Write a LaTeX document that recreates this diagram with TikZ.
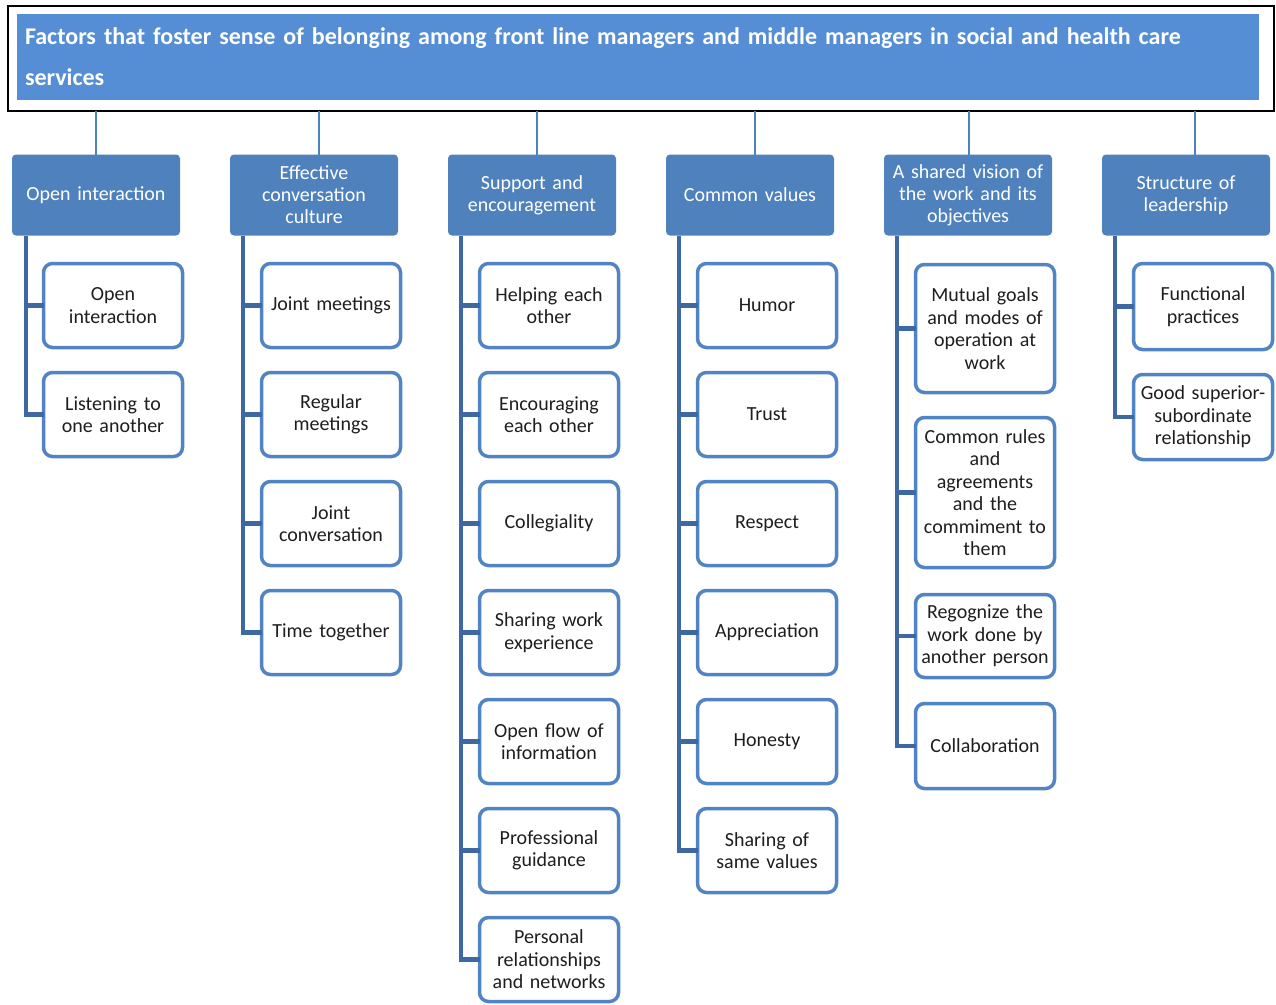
\documentclass[tikz,border=0pt]{standalone}
\usepackage{fontspec}
\setmainfont{Carlito}
\usetikzlibrary{positioning}
\definecolor{titleblue}{RGB}{85,142,213}
\definecolor{headblue}{RGB}{79,129,189}
\definecolor{boxblue}{RGB}{82,132,196}
\definecolor{spineblue}{RGB}{62,104,162}
\definecolor{txtgray}{RGB}{30,30,30}

\begin{document}
\begin{tikzpicture}[x=1pt, y=-1pt,
        outerframe/.style={draw=black, line width=1.5pt, minimum width=1266pt, minimum height=105pt, inner sep=0pt, outer sep=0pt},
        maintitle/.style={fill=titleblue, minimum width=1242pt, minimum height=86pt, text width=1226pt, align=left, inner sep=8pt, text=white, font=\bfseries\fontsize{24}{41}\selectfont},
        head/.style={fill=headblue, rounded corners=4pt, minimum width=168pt, minimum height=81pt, text width=160pt, align=center, inner sep=4pt, outer sep=0pt, text=white, font=\fontsize{20}{22}\selectfont},
        item/.style={draw=boxblue, line width=3.5pt, rounded corners=9pt, fill=white, minimum width=139pt, minimum height=84pt, text width=135pt, align=center, inner sep=2pt, outer sep=0pt, text=txtgray, font=\fontsize{20}{22.5}\selectfont},
        link/.style={draw=headblue, line width=1.3pt},
        bracket/.style={draw=spineblue, line width=4.5pt}]

        \useasboundingbox (0,0) rectangle (1276,1004);

        \node[outerframe] (frame) at (641,58.5) {};
        \node[maintitle] (title) at (638,57) {Factors that foster sense of belonging among front line managers and middle managers in social and health care\\services};

        \node[head] (open) at (96,195) {Open interaction};
        \node[head] (conv) at (314,195) {Effective\\conversation\\culture};
        \node[head] (support) at (532,195) {Support and\\encouragement};
        \node[head] (values) at (750,195) {Common values};
        \node[head] (vision) at (968,195) {A shared vision of\\the work and its\\objectives};
        \node[head] (leader) at (1186,195) {Structure of\\leadership};

        \draw[link] (open.north) -- (open.north |- frame.south);
        \draw[link] ([xshift=5pt]conv.north) -- ([xshift=5pt]conv.north |- frame.south);
        \draw[link] ([xshift=5pt]support.north) -- ([xshift=5pt]support.north |- frame.south);
        \draw[link] ([xshift=5pt]values.north) -- ([xshift=5pt]values.north |- frame.south);
        \draw[link] ([xshift=1pt]vision.north) -- ([xshift=1pt]vision.north |- frame.south);
        \draw[link] ([xshift=9pt]leader.north) -- ([xshift=9pt]leader.north |- frame.south);

        \node[item, below=28pt of open, xshift=17pt] (open1) {Open\\interaction};
        \node[item, below=25pt of open1] (open2) {Listening to\\one another};

        \node[item, below=28pt of conv, xshift=17pt] (conv1) {Joint meetings};
        \node[item, below=25pt of conv1] (conv2) {Regular\\meetings};
        \node[item, below=25pt of conv2] (conv3) {Joint\\conversation};
        \node[item, below=25pt of conv3] (conv4) {Time together};

        \node[item, below=28pt of support, xshift=17pt] (sup1) {Helping each\\other};
        \node[item, below=25pt of sup1] (sup2) {Encouraging\\each other};
        \node[item, below=25pt of sup2] (sup3) {Collegiality};
        \node[item, below=25pt of sup3] (sup4) {Sharing work\\experience};
        \node[item, below=25pt of sup4] (sup5) {Open flow of\\information};
        \node[item, below=25pt of sup5] (sup6) {Professional\\guidance};
        \node[item, below=25pt of sup6] (sup7) {Personal\\relationships\\and networks};

        \node[item, below=28pt of values, xshift=17pt] (val1) {Humor};
        \node[item, below=25pt of val1] (val2) {Trust};
        \node[item, below=25pt of val2] (val3) {Respect};
        \node[item, below=25pt of val3] (val4) {Appreciation};
        \node[item, below=25pt of val4] (val5) {Honesty};
        \node[item, below=25pt of val5] (val6) {Sharing of\\same values};

        \node[item, below=29pt of vision, xshift=17pt, minimum height=128pt] (vis1) {Mutual goals\\and modes of\\operation at\\work};
        \node[item, below=25pt of vis1, minimum height=150pt] (vis2) {Common rules\\and\\agreements\\and the\\commiment to\\them};
        \node[item, below=27pt of vis2, minimum height=83pt] (vis3) {Regognize the\\work done by\\another person};
        \node[item, below=26pt of vis3, minimum height=85pt] (vis4) {Collaboration};

        \node[item, below=28pt of leader, xshift=17pt, minimum height=86pt] (lead1) {Functional\\practices};
        \node[item, below=25pt of lead1, minimum height=85pt] (lead2) {Good superior-\\subordinate\\relationship};

        \coordinate (openspine) at ([xshift=-70pt]open.south);
        \coordinate (convspine) at ([xshift=-71pt]conv.south);
        \coordinate (supspine) at ([xshift=-71pt]support.south);
        \coordinate (valspine) at ([xshift=-71pt]values.south);
        \coordinate (visspine) at ([xshift=-71pt]vision.south);
        \coordinate (leadspine) at ([xshift=-71pt]leader.south);

        \draw[bracket] (openspine) |- (open2.west) (openspine |- open1.west) -- (open1.west);
        \draw[bracket] (convspine) |- (conv4.west) (convspine |- conv1.west) -- (conv1.west)
            (convspine |- conv2.west) -- (conv2.west) (convspine |- conv3.west) -- (conv3.west);
        \draw[bracket] (supspine) |- (sup7.west) (supspine |- sup1.west) -- (sup1.west)
            (supspine |- sup2.west) -- (sup2.west) (supspine |- sup3.west) -- (sup3.west)
            (supspine |- sup4.west) -- (sup4.west) (supspine |- sup5.west) -- (sup5.west)
            (supspine |- sup6.west) -- (sup6.west);
        \draw[bracket] (valspine) |- (val6.west) (valspine |- val1.west) -- (val1.west)
            (valspine |- val2.west) -- (val2.west) (valspine |- val3.west) -- (val3.west)
            (valspine |- val4.west) -- (val4.west) (valspine |- val5.west) -- (val5.west);
        \draw[bracket] (visspine) |- (vis4.west) (visspine |- vis1.west) -- (vis1.west)
            (visspine |- vis2.west) -- (vis2.west) (visspine |- vis3.west) -- (vis3.west);
        \draw[bracket] (leadspine) |- (lead2.west) (leadspine |- lead1.west) -- (lead1.west);

    \end{tikzpicture}
\end{document}
